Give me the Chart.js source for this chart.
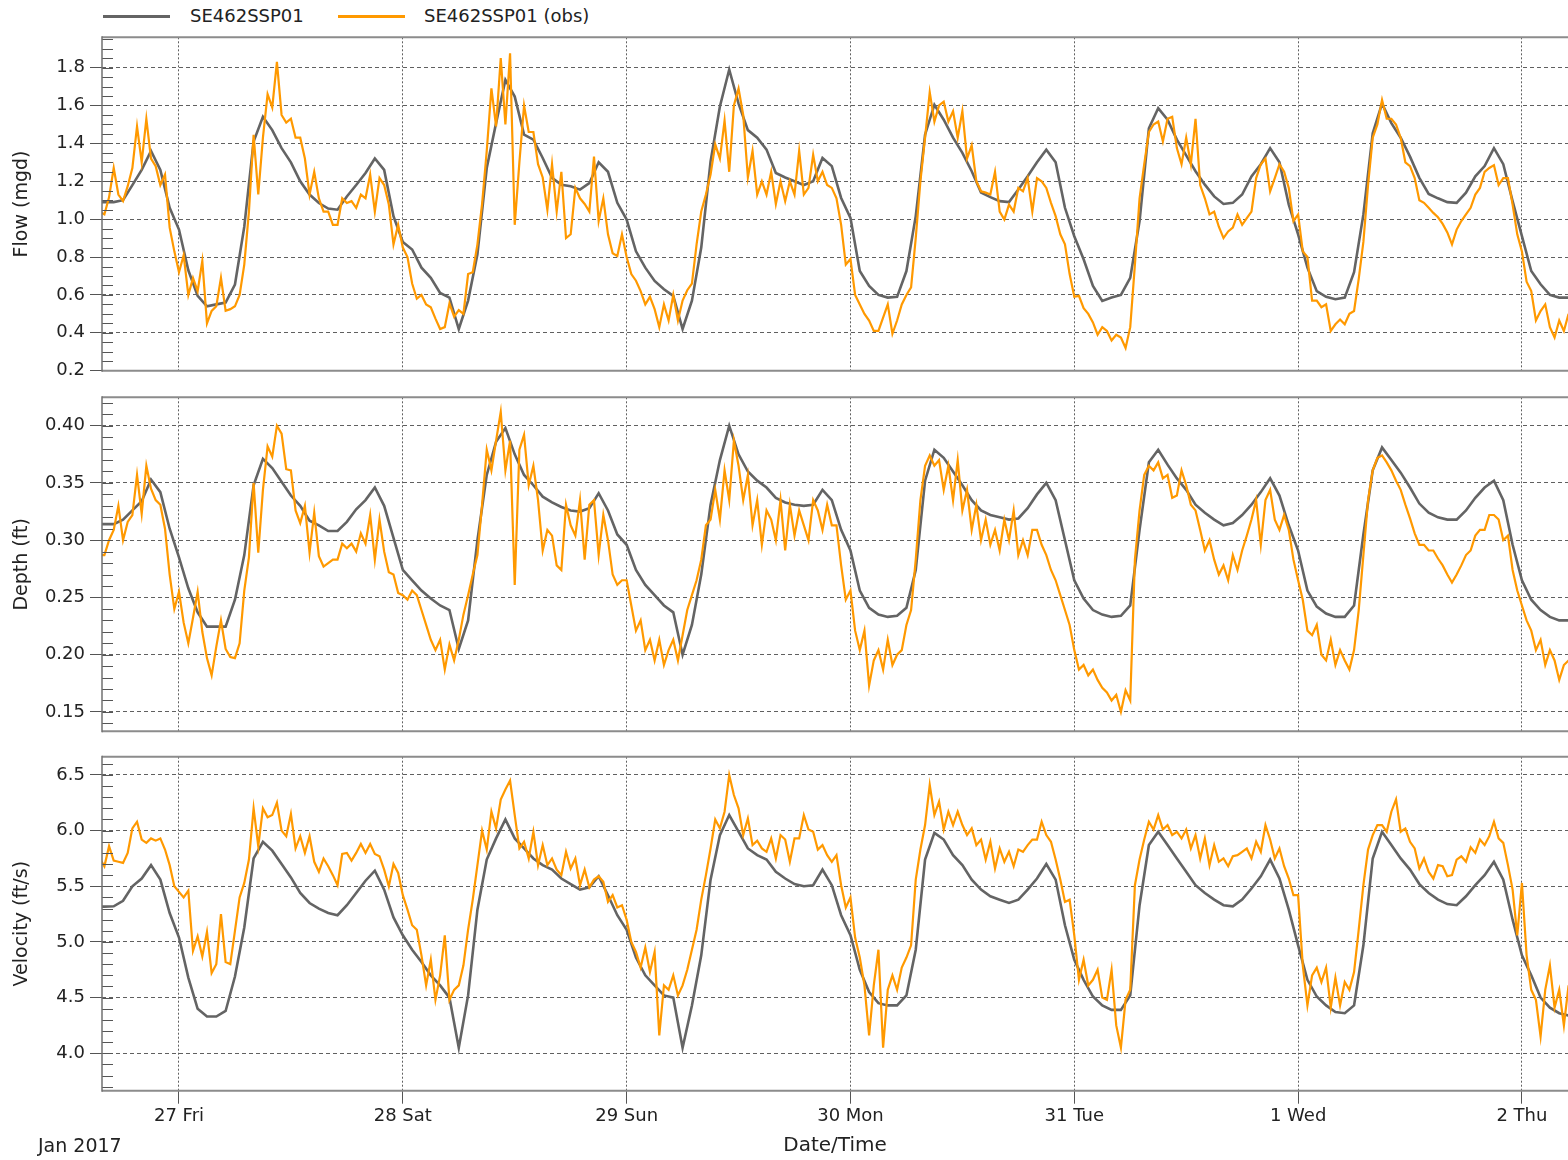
<!DOCTYPE html>
<html><head><meta charset="utf-8">
<script src="https://cdn.jsdelivr.net/npm/chart.js@4.4.0/dist/chart.umd.min.js"></script>
<style>
html,body{margin:0;padding:0;background:#fff;}
#wrap{position:relative;width:1568px;height:1160px;overflow:hidden;font-family:"DejaVu Sans",sans-serif;}
canvas{position:absolute;left:0;}
.leg{position:absolute;top:5px;font-size:18px;color:#222;line-height:22px;white-space:nowrap;}
.legline{position:absolute;top:15px;height:3px;}
</style></head><body>
<div id="wrap">
  <div class="legline" style="left:103px;width:67px;background:#646464"></div>
  <div class="leg" id="leg1" style="left:190px"></div>
  <div class="legline" style="left:338px;width:67px;background:#ff9900"></div>
  <div class="leg" id="leg2" style="left:424px"></div>
  <canvas id="c1" width="1568" height="380" style="top:0px"></canvas>
  <canvas id="c2" width="1568" height="360" style="top:380px"></canvas>
  <canvas id="c3" width="1568" height="420" style="top:740px"></canvas>
</div>
<script>
// ---------- data ----------
const seriesNames = ['SE462SSP01', 'SE462SSP01 (obs)'];
const dayTickHours = [0, 24, 48, 72, 96, 120, 144];          // hours after 27 Jan 2017 00:00
const dayTickLabels = ['27 Fri', '28 Sat', '29 Sun', '30 Mon', '31 Tue', '1 Wed', '2 Thu'];
const monthLabel = 'Jan 2017';
const xAxisTitle = 'Date/Time';
const xMinHour = -8.256, xMaxHour = 148.94;

const simStartHour = -9, simStepHours = 1;     // model series: hourly
const obsStartHour = -8.5, obsStepHours = 0.5; // observed series: half-hourly

const flowTicks = [0.2, 0.4, 0.6, 0.8, 1.0, 1.2, 1.4, 1.6, 1.8];
const flowTickLabels = ['0.2', '0.4', '0.6', '0.8', '1.0', '1.2', '1.4', '1.6', '1.8'];
const depthTicks = [0.15, 0.20, 0.25, 0.30, 0.35, 0.40];
const depthTickLabels = ['0.15', '0.20', '0.25', '0.30', '0.35', '0.40'];
const velocityTicks = [4.0, 4.5, 5.0, 5.5, 6.0, 6.5];
const velocityTickLabels = ['4.0', '4.5', '5.0', '5.5', '6.0', '6.5'];

const flowSim = [
1.09,1.09,1.09,1.10,1.18,1.26,1.36,1.26,1.06,0.945,0.73,0.595,
0.54,0.55,0.56,0.655,0.96,1.41,1.54,1.47,1.375,1.30,1.20,1.13,
1.085,1.056,1.05,1.12,1.18,1.244,1.32,1.26,1.015,0.88,0.84,0.744,
0.69,0.61,0.586,0.42,0.57,0.815,1.27,1.507,1.735,1.647,1.446,1.42,
1.323,1.218,1.182,1.174,1.156,1.19,1.30,1.25,1.086,0.998,0.83,0.744,
0.674,0.63,0.595,0.42,0.57,0.85,1.305,1.595,1.79,1.61,1.47,1.43,
1.367,1.244,1.22,1.20,1.18,1.20,1.323,1.28,1.112,1.007,0.726,0.647,
0.60,0.586,0.59,0.726,1.016,1.446,1.604,1.525,1.43,1.35,1.253,1.14,
1.116,1.095,1.09,1.156,1.226,1.30,1.367,1.30,1.06,0.91,0.788,0.647,
0.568,0.586,0.60,0.69,0.99,1.48,1.586,1.525,1.42,1.337,1.253,1.182,
1.12,1.08,1.086,1.13,1.226,1.29,1.375,1.30,1.077,0.92,0.744,0.62,
0.59,0.577,0.586,0.72,1.025,1.454,1.61,1.507,1.43,1.33,1.218,1.133,
1.11,1.09,1.086,1.14,1.226,1.28,1.375,1.29,1.095,0.91,0.726,0.656,
0.60,0.586,0.586];

const flowObs = [
1.04,1.025,1.115,1.27,1.13,1.095,1.174,1.27,1.49,1.30,1.53,1.32,
1.28,1.18,1.235,0.955,0.83,0.72,0.81,0.60,0.69,0.62,0.78,0.45,
0.516,0.54,0.69,0.516,0.525,0.54,0.60,0.76,1.04,1.445,1.13,1.43,
1.66,1.59,1.83,1.55,1.51,1.53,1.43,1.43,1.32,1.13,1.25,1.11,
1.04,1.04,0.97,0.97,1.11,1.085,1.095,1.06,1.13,1.11,1.235,1.04,
1.217,1.18,1.077,0.867,0.97,0.85,0.80,0.66,0.58,0.60,0.55,0.535,
0.475,0.42,0.43,0.555,0.485,0.52,0.50,0.71,0.72,0.867,1.08,1.36,
1.69,1.49,1.85,1.50,1.875,0.97,1.30,1.60,1.46,1.46,1.29,1.22,
1.05,1.29,1.04,1.25,0.90,0.92,1.165,1.11,1.08,1.04,1.33,0.99,
1.11,0.92,0.82,0.805,0.92,0.80,0.71,0.675,0.62,0.55,0.59,0.525,
0.43,0.55,0.465,0.60,0.465,0.57,0.625,0.66,0.867,1.04,1.13,1.235,
1.395,1.32,1.52,1.25,1.60,1.69,1.55,1.22,1.36,1.13,1.20,1.13,
1.25,1.08,1.20,1.095,1.20,1.13,1.36,1.13,1.165,1.34,1.20,1.25,
1.18,1.165,1.11,0.97,0.76,0.79,0.60,0.55,0.50,0.465,0.41,0.41,
0.48,0.55,0.395,0.465,0.55,0.60,0.64,0.90,1.20,1.43,1.67,1.515,
1.60,1.62,1.515,1.57,1.43,1.57,1.32,1.39,1.20,1.147,1.14,1.13,
1.25,1.04,0.998,1.077,1.04,1.165,1.147,1.217,1.04,1.217,1.20,1.165,
1.086,1.016,0.92,0.867,0.71,0.59,0.595,0.53,0.50,0.455,0.39,0.43,
0.41,0.36,0.39,0.375,0.32,0.43,0.76,1.11,1.29,1.46,1.50,1.515,
1.41,1.53,1.54,1.375,1.29,1.43,1.29,1.53,1.18,1.11,1.025,1.04,
0.96,0.90,0.935,0.955,1.025,0.97,1.005,1.04,1.217,1.29,1.32,1.147,
1.217,1.29,1.25,1.165,0.99,1.025,0.83,0.80,0.57,0.57,0.535,0.55,
0.41,0.445,0.47,0.445,0.50,0.515,0.685,0.88,1.18,1.43,1.50,1.63,
1.53,1.53,1.50,1.43,1.30,1.28,1.217,1.10,1.086,1.06,1.033,1.01,
0.975,0.93,0.867,0.945,0.99,1.025,1.06,1.13,1.165,1.25,1.27,1.285,
1.18,1.217,1.217,1.077,0.92,0.83,0.67,0.62,0.465,0.515,0.55,0.43,
0.375,0.465,0.41,0.50];

const depthSim = [
0.314,0.314,0.314,0.318,0.326,0.334,0.353,0.342,0.31,0.285,0.258,0.237,
0.2245,0.2245,0.2245,0.248,0.287,0.348,0.371,0.363,0.351,0.339,0.33,0.317,
0.313,0.308,0.308,0.316,0.327,0.335,0.346,0.33,0.302,0.274,0.265,0.256,
0.249,0.243,0.239,0.205,0.23,0.30,0.357,0.386,0.398,0.375,0.357,0.348,
0.338,0.333,0.329,0.326,0.325,0.328,0.341,0.326,0.305,0.296,0.274,0.261,
0.252,0.243,0.237,0.20,0.226,0.27,0.331,0.37,0.40,0.375,0.36,0.352,
0.346,0.337,0.333,0.331,0.33,0.331,0.344,0.335,0.309,0.291,0.256,0.241,
0.235,0.233,0.234,0.241,0.274,0.352,0.379,0.372,0.36,0.348,0.335,0.326,
0.322,0.32,0.318,0.319,0.328,0.34,0.35,0.335,0.30,0.265,0.249,0.239,
0.235,0.233,0.234,0.243,0.309,0.368,0.379,0.366,0.354,0.344,0.331,0.324,
0.318,0.313,0.315,0.322,0.331,0.342,0.354,0.339,0.313,0.291,0.256,0.242,
0.236,0.233,0.233,0.243,0.305,0.361,0.381,0.37,0.359,0.346,0.332,0.324,
0.32,0.318,0.318,0.326,0.337,0.346,0.352,0.335,0.296,0.265,0.248,0.239,
0.233,0.23,0.23];

const depthObs = [
0.287,0.287,0.30,0.309,0.33,0.30,0.316,0.322,0.357,0.323,0.365,0.345,
0.335,0.331,0.31,0.27,0.24,0.255,0.228,0.21,0.232,0.255,0.22,0.197,
0.182,0.207,0.23,0.205,0.198,0.197,0.21,0.256,0.285,0.35,0.289,0.344,
0.382,0.373,0.40,0.393,0.362,0.361,0.326,0.315,0.33,0.289,0.324,0.286,
0.277,0.28,0.283,0.283,0.297,0.293,0.297,0.29,0.306,0.297,0.322,0.283,
0.318,0.29,0.272,0.27,0.254,0.252,0.248,0.256,0.252,0.239,0.226,0.213,
0.204,0.213,0.187,0.209,0.195,0.213,0.235,0.252,0.27,0.287,0.331,0.379,
0.361,0.387,0.412,0.361,0.387,0.261,0.379,0.392,0.348,0.365,0.335,0.291,
0.309,0.304,0.278,0.274,0.331,0.313,0.304,0.335,0.283,0.331,0.335,0.287,
0.322,0.30,0.27,0.261,0.265,0.265,0.243,0.221,0.23,0.204,0.213,0.195,
0.213,0.191,0.204,0.213,0.195,0.217,0.239,0.252,0.265,0.283,0.313,0.318,
0.344,0.318,0.361,0.335,0.387,0.365,0.335,0.357,0.313,0.335,0.296,0.326,
0.318,0.30,0.335,0.291,0.331,0.304,0.326,0.313,0.30,0.335,0.326,0.309,
0.331,0.313,0.313,0.278,0.248,0.256,0.221,0.204,0.221,0.173,0.195,0.204,
0.187,0.213,0.191,0.20,0.204,0.226,0.239,0.283,0.335,0.365,0.374,0.365,
0.37,0.344,0.365,0.335,0.37,0.326,0.344,0.309,0.331,0.30,0.318,0.296,
0.309,0.291,0.318,0.30,0.326,0.287,0.30,0.287,0.309,0.309,0.296,0.287,
0.274,0.265,0.252,0.239,0.226,0.204,0.187,0.191,0.182,0.187,0.178,0.171,
0.167,0.16,0.165,0.15,0.169,0.16,0.283,0.326,0.357,0.365,0.361,0.368,
0.354,0.357,0.337,0.339,0.361,0.348,0.331,0.326,0.309,0.291,0.30,0.283,
0.27,0.278,0.265,0.287,0.274,0.291,0.304,0.318,0.335,0.296,0.335,0.344,
0.318,0.309,0.322,0.309,0.283,0.265,0.248,0.221,0.217,0.226,0.20,0.195,
0.213,0.191,0.204,0.195,0.187,0.204,0.239,0.287,0.335,0.361,0.372,0.374,
0.368,0.361,0.352,0.344,0.331,0.319,0.306,0.296,0.296,0.291,0.291,0.284,
0.278,0.27,0.263,0.27,0.278,0.287,0.291,0.304,0.309,0.309,0.322,0.322,
0.318,0.30,0.304,0.274,0.256,0.243,0.23,0.221,0.204,0.213,0.191,0.204,
0.195,0.178,0.191,0.195];

const velocitySim = [
5.32,5.317,5.32,5.37,5.50,5.57,5.69,5.56,5.26,5.04,4.68,4.40,
4.33,4.33,4.38,4.69,5.13,5.75,5.90,5.82,5.70,5.58,5.44,5.35,
5.30,5.26,5.24,5.33,5.44,5.55,5.64,5.47,5.22,5.06,4.93,4.82,
4.70,4.61,4.50,4.05,4.52,5.29,5.74,5.93,6.10,5.93,5.84,5.75,
5.69,5.65,5.57,5.52,5.47,5.49,5.59,5.42,5.24,5.11,4.86,4.70,
4.61,4.52,4.50,4.05,4.43,4.88,5.56,5.96,6.14,5.99,5.84,5.78,
5.74,5.63,5.57,5.52,5.50,5.51,5.65,5.51,5.24,5.06,4.75,4.55,
4.45,4.43,4.43,4.52,4.93,5.74,5.98,5.92,5.78,5.69,5.56,5.47,
5.41,5.38,5.35,5.38,5.47,5.57,5.70,5.56,5.15,4.84,4.66,4.51,
4.43,4.39,4.39,4.52,5.33,5.87,5.99,5.87,5.75,5.63,5.51,5.44,
5.38,5.33,5.32,5.38,5.48,5.59,5.74,5.57,5.29,4.97,4.66,4.51,
4.43,4.37,4.36,4.43,4.97,5.75,5.99,5.87,5.75,5.65,5.52,5.44,
5.38,5.34,5.33,5.41,5.51,5.60,5.72,5.56,5.20,4.88,4.70,4.50,
4.41,4.36,4.34];

const velocityObs = [
5.75,5.68,5.86,5.73,5.72,5.71,5.80,6.02,6.08,5.92,5.89,5.93,
5.91,5.93,5.83,5.69,5.50,5.45,5.40,5.46,4.92,5.05,4.87,5.09,
4.72,4.80,5.25,4.82,4.80,5.10,5.40,5.53,5.74,6.20,5.86,6.20,
6.12,6.14,6.25,6.00,5.95,6.15,5.84,5.95,5.80,5.95,5.72,5.63,
5.75,5.68,5.60,5.51,5.79,5.80,5.73,5.80,5.88,5.80,5.88,5.79,
5.77,5.65,5.50,5.70,5.62,5.42,5.29,5.15,5.11,4.88,4.61,4.84,
4.48,4.70,5.06,4.48,4.57,4.61,4.79,5.11,5.38,5.69,6.00,5.83,
6.17,6.02,6.28,6.37,6.45,6.14,5.84,5.90,5.75,5.99,5.69,5.87,
5.69,5.75,5.65,5.60,5.81,5.66,5.75,5.51,5.65,5.49,5.56,5.59,
5.54,5.36,5.42,5.31,5.33,5.20,5.00,4.91,4.77,4.95,4.73,4.91,
4.16,4.61,4.57,4.70,4.52,4.61,4.75,4.93,5.11,5.38,5.60,5.84,
6.10,6.02,6.17,6.50,6.32,6.20,5.96,6.11,5.87,5.91,5.84,5.81,
5.93,5.75,5.96,5.92,5.72,5.93,5.93,6.14,6.01,5.99,5.83,5.87,
5.78,5.72,5.78,5.51,5.31,5.40,5.04,4.86,4.61,4.16,4.61,4.93,
4.05,4.57,4.70,4.57,4.77,4.86,4.97,5.56,5.83,6.05,6.41,6.14,
6.26,6.01,6.17,6.05,6.17,6.05,5.96,6.02,5.87,5.92,5.74,5.90,
5.66,5.84,5.72,5.81,5.68,5.83,5.81,5.87,5.92,5.92,6.08,5.96,
5.90,5.74,5.56,5.36,5.38,5.06,4.66,4.84,4.61,4.66,4.75,4.50,
4.48,4.75,4.25,4.05,4.48,4.57,5.51,5.74,5.92,6.08,6.01,6.14,
6.01,6.05,5.96,5.99,5.93,6.01,5.84,5.96,5.75,5.93,5.69,5.87,
5.72,5.75,5.68,5.77,5.78,5.81,5.84,5.75,5.90,5.81,6.05,5.92,
5.75,5.84,5.68,5.57,5.42,5.42,4.79,4.43,4.70,4.77,4.64,4.77,
4.41,4.68,4.43,4.64,4.57,4.73,5.11,5.51,5.83,5.96,6.05,6.05,
5.99,6.17,6.28,5.99,6.02,5.90,5.84,5.66,5.75,5.63,5.57,5.69,
5.68,5.59,5.60,5.74,5.77,5.72,5.85,5.80,5.92,5.87,5.95,6.08,
5.93,5.89,5.69,5.47,5.06,5.53,4.88,4.57,4.48,4.15,4.57,4.79,
4.41,4.57,4.25,4.61];

// ---------- helpers ----------
document.getElementById('leg1').textContent = seriesNames[0];
document.getElementById('leg2').textContent = seriesNames[1];
const FONT = '"DejaVu Sans", sans-serif';
const TXT = '#222';

function toPoints(vals, start, step) {
  return vals.map((v, i) => ({ x: start + i * step, y: v }));
}

const framePlugin = {
  id: 'frame',
  afterDatasetsDraw(chart, args, opts) {
    const { ctx, chartArea: a } = chart;
    const ys = chart.scales.y;
    ctx.save();
    ctx.strokeStyle = '#555';
    ctx.lineWidth = 1;
    const n0 = Math.ceil(ys.min / opts.minorStep - 1e-6), n1 = Math.floor(ys.max / opts.minorStep + 1e-6);
    ctx.beginPath();
    for (let n = n0; n <= n1; n++) {
      const py = Math.round(ys.getPixelForValue(n * opts.minorStep)) + 0.5;
      if (py < a.top + 2 || py > a.bottom - 1) continue;
      ctx.moveTo(a.left, py); ctx.lineTo(a.left + 11, py);
    }
    ctx.stroke();
    ctx.strokeStyle = '#8c8c8c';
    ctx.lineWidth = 2;
    ctx.beginPath();
    ctx.moveTo(a.left, a.top); ctx.lineTo(a.right + 2, a.top);
    ctx.moveTo(a.left, a.bottom); ctx.lineTo(a.right + 2, a.bottom);
    ctx.stroke();
    ctx.strokeStyle = '#707070';
    ctx.lineWidth = 1.5;
    ctx.beginPath();
    ctx.moveTo(a.left, a.top - 1); ctx.lineTo(a.left, a.bottom + 1);
    ctx.stroke();
    if (opts.monthText) {
      ctx.fillStyle = TXT;
      ctx.font = '19px ' + FONT;
      ctx.textBaseline = 'middle';
      ctx.textAlign = 'left';
      ctx.fillText(opts.monthText, 38, opts.monthY);
    }
    ctx.restore();
  }
};

function makePanel(id, cfg) {
  const datasets = [
    { label: seriesNames[1], data: toPoints(cfg.obs, obsStartHour, obsStepHours),
      borderColor: '#ff9900', borderWidth: 2.2 },
    { label: seriesNames[0], data: toPoints(cfg.sim, simStartHour, simStepHours),
      borderColor: '#646464', borderWidth: 2.6 }
  ];
  return new Chart(document.getElementById(id), {
    type: 'line',
    data: { datasets },
    options: {
      responsive: false, animation: false, events: [],
      layout: { padding: { top: cfg.padTop, bottom: cfg.padBottom, left: 0, right: 0 } },
      elements: { point: { radius: 0 }, line: { tension: 0, fill: false } },
      plugins: { legend: { display: false }, tooltip: { enabled: false },
        frame: { minorStep: cfg.minorStep, monthText: cfg.showX ? monthLabel : null, monthY: cfg.monthY } },
      scales: {
        x: {
          type: 'linear', min: xMinHour, max: xMaxHour,
          afterBuildTicks: s => { s.ticks = dayTickHours.map(v => ({ value: v })); },
          afterFit: s => { s.height = cfg.xHeight; s.paddingLeft = 0; s.paddingRight = 0; },
          ticks: { display: cfg.showX, autoSkip: false, maxRotation: 0, padding: 2,
            color: TXT, font: { family: FONT, size: 18 },
            callback: v => dayTickLabels[dayTickHours.indexOf(v)] },
          grid: { color: '#606060', lineWidth: 1, drawTicks: cfg.showX, tickLength: 13,
            tickColor: '#555', tickWidth: 1 },
          border: { display: false, dash: [2, 2] },
          title: { display: cfg.showX, text: xAxisTitle, color: TXT,
            font: { family: FONT, size: 20 }, padding: { top: 0, bottom: 2 } }
        },
        y: {
          min: cfg.yMin, max: cfg.yMax,
          afterBuildTicks: s => { s.ticks = cfg.ticks.map(v => ({ value: v })); },
          afterFit: s => { s.width = 102; s.paddingTop = 0; s.paddingBottom = 0; },
          ticks: { padding: 5, color: TXT, font: { family: FONT, size: 18 },
            callback: v => cfg.tickLabels[cfg.ticks.findIndex(t => Math.abs(t - v) < 1e-9)] },
          grid: { color: '#606060', lineWidth: 1, drawTicks: true, tickLength: 12,
            tickColor: '#555', tickWidth: 1 },
          border: { display: false, dash: [4, 3] },
          title: { display: true, text: cfg.title, color: TXT,
            font: { family: FONT, size: 19 }, padding: { top: 11, bottom: 0 } }
        }
      }
    },
    plugins: [framePlugin]
  });
}

makePanel('c1', { sim: flowSim, obs: flowObs, ticks: flowTicks, tickLabels: flowTickLabels,
  yMin: 0.2, yMax: 1.96, minorStep: 0.05, title: 'Flow (mgd)',
  padTop: 37.3, padBottom: 9.3, xHeight: 0, showX: false });
makePanel('c2', { sim: depthSim, obs: depthObs, ticks: depthTicks, tickLabels: depthTickLabels,
  yMin: 0.1331, yMax: 0.4248, minorStep: 0.01, title: 'Depth (ft)',
  padTop: 17.3, padBottom: 8.7, xHeight: 0, showX: false });
makePanel('c3', { sim: velocitySim, obs: velocityObs, ticks: velocityTicks, tickLabels: velocityTickLabels,
  yMin: 3.664, yMax: 6.664, minorStep: 0.1, title: 'Velocity (ft/s)',
  padTop: 16.7, padBottom: 0, xHeight: 69.3, showX: true, monthY: 407 });
</script>
</body></html>
